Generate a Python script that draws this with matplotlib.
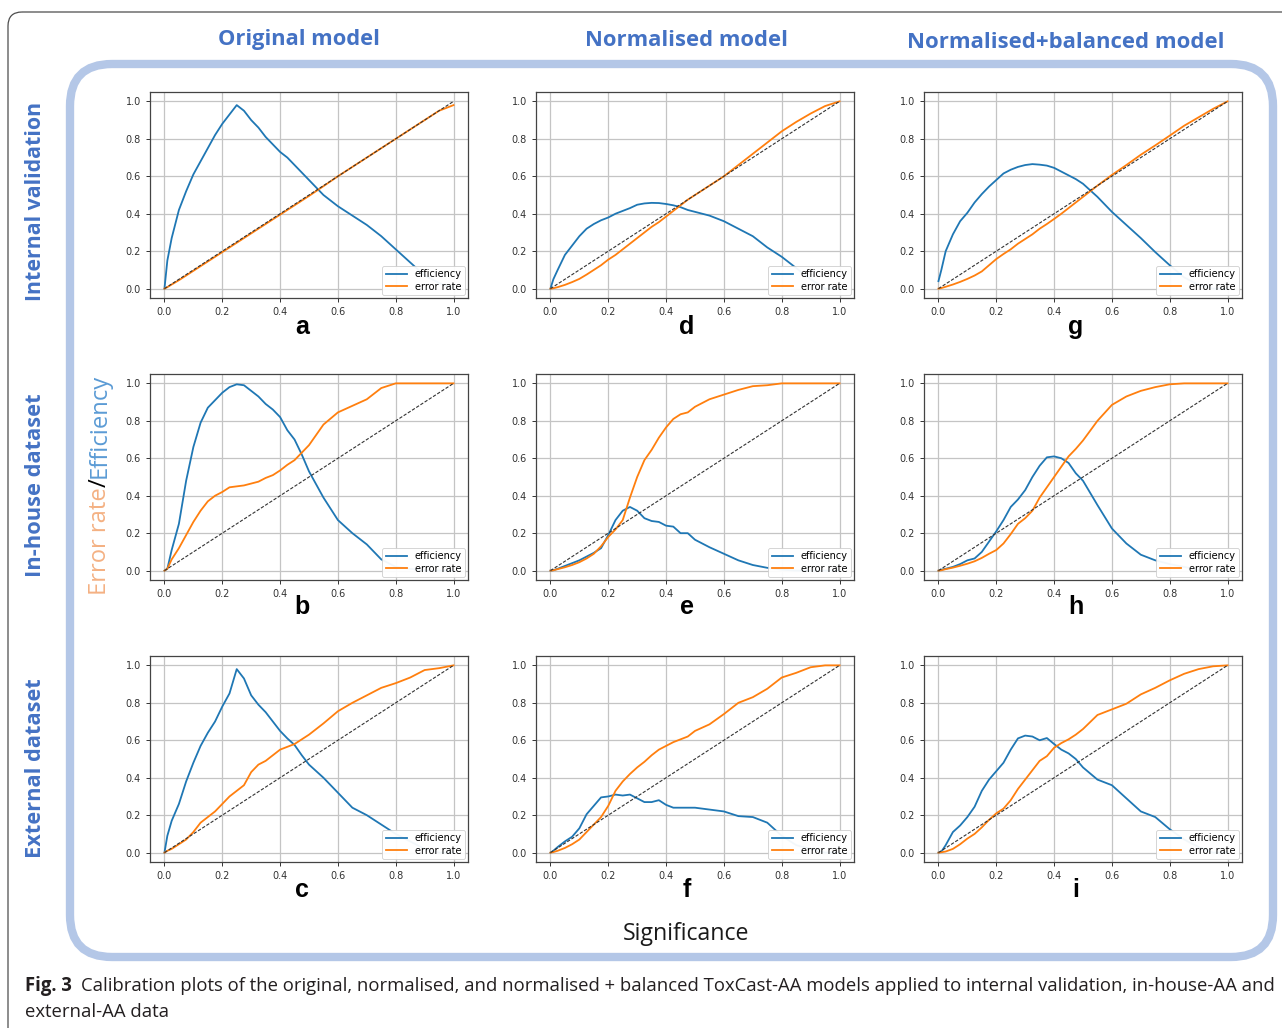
import matplotlib
matplotlib.use('Agg')
import matplotlib.pyplot as plt
from matplotlib.patches import FancyBboxPatch
from matplotlib import font_manager

# ---------------- data ----------------
sig = [0, 0.01, 0.025, 0.05, 0.075, 0.1, 0.125, 0.15, 0.175, 0.2, 0.225, 0.25, 0.275, 0.3,
       0.325, 0.35, 0.375, 0.4, 0.425, 0.45, 0.475, 0.5, 0.55, 0.6, 0.65, 0.7, 0.75, 0.8,
       0.85, 0.9, 0.95, 1.0]

eff_a = [0, 0.15, 0.27, 0.42, 0.52, 0.61, 0.68, 0.75, 0.82, 0.88, 0.93, 0.98, 0.95, 0.90, 0.86,
         0.81, 0.77, 0.73, 0.70, 0.66, 0.62, 0.58, 0.50, 0.44, 0.39, 0.34, 0.28, 0.21, 0.14, 0.07, 0.03, 0.0]
err_a = [0, 0.008, 0.022, 0.045, 0.07, 0.095, 0.12, 0.145, 0.17, 0.195, 0.22, 0.245, 0.27, 0.295, 0.32,
         0.345, 0.37, 0.395, 0.42, 0.445, 0.47, 0.495, 0.547, 0.6, 0.65, 0.7, 0.75, 0.8, 0.85, 0.9, 0.95, 0.98]

eff_b = [0, 0.01, 0.11, 0.25, 0.48, 0.66, 0.79, 0.87, 0.91, 0.95, 0.98, 0.995, 0.99, 0.96, 0.93,
         0.89, 0.86, 0.82, 0.75, 0.70, 0.62, 0.53, 0.39, 0.27, 0.20, 0.14, 0.06, 0.02, 0.01, 0.0, 0.0, 0.0]
err_b = [0, 0.01, 0.06, 0.12, 0.19, 0.26, 0.32, 0.37, 0.40, 0.42, 0.445, 0.45, 0.455, 0.465, 0.475,
         0.495, 0.51, 0.535, 0.565, 0.59, 0.63, 0.67, 0.78, 0.845, 0.88, 0.915, 0.975, 1.0, 1.0, 1.0, 1.0, 1.0]

eff_c = [0, 0.09, 0.17, 0.26, 0.38, 0.48, 0.57, 0.64, 0.70, 0.78, 0.85, 0.98, 0.93, 0.84, 0.79,
         0.75, 0.70, 0.65, 0.61, 0.575, 0.52, 0.47, 0.40, 0.32, 0.24, 0.20, 0.15, 0.10, 0.06, 0.02, 0.0, 0.0]
err_c = [0, 0.01, 0.02, 0.045, 0.07, 0.11, 0.16, 0.19, 0.22, 0.26, 0.30, 0.33, 0.36, 0.43, 0.47,
         0.49, 0.52, 0.55, 0.565, 0.58, 0.605, 0.63, 0.69, 0.755, 0.80, 0.84, 0.88, 0.905, 0.935, 0.975, 0.985, 1.0]

eff_d = [0, 0.05, 0.10, 0.18, 0.23, 0.28, 0.32, 0.345, 0.365, 0.38, 0.40, 0.415, 0.43, 0.448, 0.455,
         0.458, 0.457, 0.452, 0.445, 0.435, 0.42, 0.41, 0.39, 0.36, 0.32, 0.28, 0.22, 0.17, 0.11, 0.05, 0.0, 0.0]
err_d = [0, 0.002, 0.008, 0.02, 0.035, 0.052, 0.075, 0.10, 0.125, 0.155, 0.18, 0.21, 0.24, 0.27, 0.30,
         0.33, 0.355, 0.385, 0.415, 0.445, 0.475, 0.50, 0.55, 0.60, 0.66, 0.72, 0.78, 0.84, 0.89, 0.935, 0.975, 1.0]

eff_e = [0, 0.002, 0.01, 0.025, 0.04, 0.055, 0.075, 0.095, 0.12, 0.19, 0.27, 0.32, 0.34, 0.32, 0.28,
         0.265, 0.26, 0.24, 0.235, 0.20, 0.20, 0.165, 0.125, 0.09, 0.055, 0.03, 0.015, 0.005, 0.0, 0.0, 0.0, 0.0]
err_e = [0, 0.002, 0.008, 0.018, 0.03, 0.045, 0.065, 0.09, 0.13, 0.18, 0.22, 0.27, 0.39, 0.50, 0.59,
         0.645, 0.71, 0.765, 0.81, 0.835, 0.845, 0.875, 0.915, 0.94, 0.965, 0.985, 0.99, 1.0, 1.0, 1.0, 1.0, 1.0]

eff_f = [0, 0.01, 0.03, 0.06, 0.085, 0.13, 0.205, 0.25, 0.295, 0.30, 0.31, 0.305, 0.31, 0.29, 0.27,
         0.27, 0.28, 0.255, 0.24, 0.24, 0.24, 0.24, 0.23, 0.22, 0.195, 0.19, 0.16, 0.09, 0.04, 0.02, 0.0, 0.0]
err_f = [0, 0.003, 0.01, 0.025, 0.045, 0.07, 0.11, 0.15, 0.19, 0.25, 0.33, 0.38, 0.42, 0.455, 0.485,
         0.52, 0.55, 0.57, 0.59, 0.605, 0.62, 0.65, 0.685, 0.74, 0.80, 0.83, 0.875, 0.935, 0.96, 0.99, 1.0, 1.0]

eff_g = [0.04, 0.10, 0.20, 0.29, 0.36, 0.405, 0.46, 0.505, 0.545, 0.58, 0.615, 0.635, 0.65, 0.66, 0.665,
         0.662, 0.657, 0.645, 0.625, 0.605, 0.585, 0.56, 0.49, 0.41, 0.34, 0.27, 0.195, 0.125, 0.06, 0.02, 0.0, 0.0]
err_g = [0, 0.003, 0.01, 0.022, 0.036, 0.052, 0.07, 0.092, 0.125, 0.158, 0.185, 0.21, 0.24, 0.265, 0.29,
         0.32, 0.345, 0.372, 0.40, 0.43, 0.46, 0.49, 0.55, 0.607, 0.66, 0.715, 0.765, 0.817, 0.87, 0.915, 0.96, 1.0]

eff_h = [0, 0.005, 0.01, 0.02, 0.035, 0.055, 0.065, 0.10, 0.155, 0.21, 0.27, 0.34, 0.38, 0.43, 0.50,
         0.56, 0.605, 0.61, 0.60, 0.575, 0.52, 0.48, 0.35, 0.225, 0.145, 0.085, 0.055, 0.035, 0.02, 0.005, 0.0, 0.0]
err_h = [0, 0.002, 0.008, 0.016, 0.026, 0.037, 0.05, 0.068, 0.09, 0.11, 0.145, 0.195, 0.25, 0.28, 0.32,
         0.39, 0.445, 0.50, 0.555, 0.61, 0.65, 0.695, 0.80, 0.885, 0.93, 0.96, 0.98, 0.995, 1.0, 1.0, 1.0, 1.0]

eff_i = [0, 0.005, 0.04, 0.11, 0.145, 0.19, 0.245, 0.33, 0.39, 0.435, 0.48, 0.55, 0.61, 0.625, 0.62,
         0.60, 0.612, 0.58, 0.55, 0.53, 0.50, 0.455, 0.39, 0.36, 0.29, 0.22, 0.19, 0.125, 0.07, 0.03, 0.0, 0.0]
err_i = [0, 0.002, 0.006, 0.02, 0.045, 0.075, 0.10, 0.135, 0.175, 0.21, 0.235, 0.28, 0.34, 0.39, 0.44,
         0.49, 0.515, 0.56, 0.585, 0.605, 0.63, 0.66, 0.735, 0.765, 0.795, 0.845, 0.88, 0.92, 0.955, 0.98, 0.995, 1.0]

diag = [0, 1]
ticks = [0.0, 0.2, 0.4, 0.6, 0.8, 1.0]

col_titles = ['Original model', 'Normalised model', 'Normalised+balanced model']
row_titles = ['Internal validation', 'In-house dataset', 'External dataset']
panel_letters = [['a', 'd', 'g'], ['b', 'e', 'h'], ['c', 'f', 'i']]
series_labels = ['efficiency', 'error rate']
ylabel_parts = ['Error rate', '/', 'Efficiency']
xlabel_text = 'Significance'
caption_bold = 'Fig. 3'
caption_line1 = ('Calibration plots of the original, normalised, and normalised + balanced '
                 'ToxCast-AA models applied to internal validation, in-house-AA and')
caption_line2 = 'external-AA data'

eff = {'a': eff_a, 'b': eff_b, 'c': eff_c, 'd': eff_d, 'e': eff_e,
       'f': eff_f, 'g': eff_g, 'h': eff_h, 'i': eff_i}
err = {'a': err_a, 'b': err_b, 'c': err_c, 'd': err_d, 'e': err_e,
       'f': err_f, 'g': err_g, 'h': err_h, 'i': err_i}


def pick(cands):
    for c in cands:
        try:
            font_manager.findfont(font_manager.FontProperties(family=c), fallback_to_default=False)
            return c
        except Exception:
            pass
    return 'DejaVu Sans'


F_TITLE = pick(['Open Sans', 'Lato', 'DejaVu Sans'])
F_NARROW = pick(['Liberation Sans Narrow', 'Open Sans', 'Lato'])
F_ARIAL = pick(['Liberation Sans', 'DejaVu Sans'])

BLUE_T = '#4472C4'
Y_OR = '#F4B183'
Y_BL = '#5B9BD5'

# ---------------- figure ----------------
W, H = 1282, 1028
fig = plt.figure(figsize=(W / 100, H / 100), dpi=100)
fig.patch.set_facecolor('white')
bg = fig.add_axes([0, 0, 1, 1])
bg.set_xlim(0, W)
bg.set_ylim(H, 0)
bg.axis('off')

bg.add_patch(FancyBboxPatch((8, 12), 1400, 1200, boxstyle='round,pad=0,rounding_size=14',
                            fill=False, ec='#4d4d4d', lw=0.9))
bg.add_patch(FancyBboxPatch((70, 64), 1203, 893, boxstyle='round,pad=0,rounding_size=42',
                            fill=False, ec='#B4C7E7', lw=6))

col_left = [150, 536, 924]
row_top = [92, 374, 656]
aw, ah = 318, 206
letter_x = [302, 687, 1076]
letter_y = [327, 607, 890]

for r in range(3):
    for c in range(3):
        L = panel_letters[r][c]
        ax = fig.add_axes([col_left[c] / W, 1 - (row_top[r] + ah) / H, aw / W, ah / H])
        ax.plot(sig, eff[L], color='#1f77b4', lw=1.3, label=series_labels[0])
        ax.plot(sig, err[L], color='#ff7f0e', lw=1.3, label=series_labels[1])
        ax.plot(diag, diag, '--', color='#333333', lw=0.8, dashes=(3, 1.5))
        ax.set_xlim(-0.05, 1.05)
        ax.set_ylim(-0.05, 1.05)
        ax.set_xticks(ticks)
        ax.set_yticks(ticks)
        ax.set_axisbelow(True)
        ax.grid(True, color='#c4c4c4', lw=0.9)
        ax.tick_params(labelsize=7, colors='#333333', length=3, width=0.7)
        for s in ax.spines.values():
            s.set_color('#444444')
            s.set_linewidth(0.9)
        leg = ax.legend(loc='lower right', fontsize=7, framealpha=0.95, handlelength=2.2,
                        borderpad=0.35, labelspacing=0.25, handletextpad=0.8, borderaxespad=0.3)
        leg.get_frame().set_linewidth(0.6)
        bg.text(letter_x[c], letter_y[r], L, ha='center', va='center', fontsize=18,
                fontweight='bold', family=F_ARIAL, color='black')

# titles and labels (fitted to reference extents)
title_pos = [(299, 40, 162), (686, 40, 202), (1066, 42, 316)]
titles = []
for (x, y, w), t in zip(title_pos, col_titles):
    titles.append((bg.text(x, y, t, ha='center', va='center', fontsize=15, fontweight='bold',
                           family=F_TITLE, color=BLUE_T), w))

row_pos = [(36, 201, 200), (36, 485, 184), (36, 768, 180)]
rows = []
for (x, y, h), t in zip(row_pos, row_titles):
    rows.append((bg.text(x, y, t, ha='center', va='center', rotation=90, fontsize=15,
                         fontweight='bold', family=F_TITLE, color=BLUE_T), h))

sig_txt = bg.text(686, 934, xlabel_text, ha='center', va='center', fontsize=15,
                  family=F_TITLE, color='#1a1a1a')

yl_colors = [Y_OR, 'black', Y_BL]
yl = [bg.text(100, 595, p, ha='center', va='bottom', rotation=90, fontsize=15,
              family=F_TITLE, color=col) for p, col in zip(ylabel_parts, yl_colors)]

cap_b = bg.text(25, 986, caption_bold, ha='left', va='center', fontsize=13,
                fontweight='bold', family=F_NARROW, color='#231f20')
cap_1 = bg.text(100, 986, caption_line1, ha='left', va='center', fontsize=13,
                family=F_NARROW, color='#231f20')
cap_2 = bg.text(25, 1012, caption_line2, ha='left', va='center', fontsize=13,
                family=F_NARROW, color='#231f20')

fig.canvas.draw()
rend = fig.canvas.get_renderer()

for t, w in titles:
    bb = t.get_window_extent(rend)
    t.set_fontsize(t.get_fontsize() * w / bb.width)
for t, h in rows:
    bb = t.get_window_extent(rend)
    t.set_fontsize(t.get_fontsize() * h / bb.height)
bb = sig_txt.get_window_extent(rend)
sig_txt.set_fontsize(sig_txt.get_fontsize() * 127 / bb.width)

tot = sum(t.get_window_extent(rend).height for t in yl)
for t in yl:
    t.set_fontsize(t.get_fontsize() * 220 / tot)
ypos = 595
for t in yl:
    t.set_y(ypos)
    ypos -= t.get_window_extent(rend).height

gap = 9
wb = cap_b.get_window_extent(rend).width
w1 = cap_1.get_window_extent(rend).width
scale = (1243 - gap) / (wb + w1)
for t in (cap_b, cap_1, cap_2):
    t.set_fontsize(t.get_fontsize() * scale)
wb = cap_b.get_window_extent(rend).width
cap_1.set_x(25 + wb + gap)

fig.savefig('out.png', dpi=100, facecolor='white')
